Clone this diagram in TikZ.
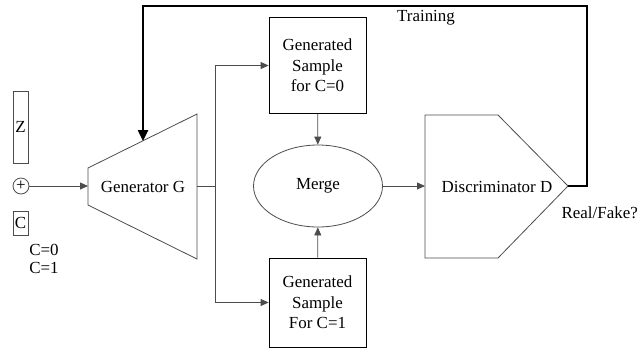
\documentclass[tikz,border=0pt]{standalone}
\usepackage{fontspec}
\setmainfont{Liberation Serif}
\usetikzlibrary{arrows.meta,shapes.geometric}

\begin{document}
\begin{tikzpicture}[x=1bp, y=-1bp, line join=miter, font=\fontsize{17}{20.5}\selectfont]
        \tikzstyle{every node}=[inner sep=0pt]
        \tikzstyle{thin line}=[draw=black!70, line width=0.8bp]
        \tikzstyle{arr}=[thin line, -{Triangle[length=8bp, width=7bp]}]
        \tikzstyle{sample}=[draw=black, line width=0.8bp, minimum width=97bp, minimum height=96bp, align=center]
        \tikzstyle{input}=[draw=black!70, line width=0.8bp, minimum width=15bp]

        \useasboundingbox (0,0) rectangle (639,358);

% inputs on the left
        \node[input, minimum height=72bp] (z) at (20.5,127) {Z};
        \node[thin line, circle, minimum size=16bp] (plus) at (21,186) {\raisebox{0.5bp}{+}};
        \node[input, minimum height=24bp] (c) at (20.5,223) {C};
        \node (c0) at (44,250) {C=0};
        \node (c1) at (44,268) {C=1};

% generator
        \coordinate (g1) at (88,168);
        \coordinate (g2) at (197,114);
        \coordinate (g3) at (197,259);
        \coordinate (g4) at (88,205);
        \draw[thin line] (g1) -- (g2) -- (g3) -- (g4) -- cycle;
        \node (gen) at (143,187) {Generator G};
        \coordinate (gin) at (88,186);
        \coordinate (gout) at (197,186);
        \coordinate (gtop) at (143,141);

% samples and merge
        \node[sample] (s0) at (317.5,65.5) {Generated\\Sample\\for C=0};
        \node[sample, minimum height=89bp] (s1) at (317.5,302.5) {Generated\\Sample\\For C=1};
        \node[thin line, ellipse, minimum width=129bp, minimum height=82bp] (merge) at (318,186) {Merge};
        \coordinate (split) at (215,186);

% discriminator
        \coordinate (d1) at (425,115);
        \coordinate (d2) at (498,115);
        \coordinate (dtip) at (568,186);
        \coordinate (d4) at (498,258);
        \coordinate (d5) at (425,258);
        \draw[thin line] (d1) -- (d2) -- (dtip) -- (d4) -- (d5) -- cycle;
        \node (disc) at (497,187) {Discriminator D};
        \coordinate (din) at (425,186);
        \node[anchor=east] (rf) at (638,213) {Real/Fake?};
        \node (train) at (426,18) {Training};

        \draw[arr] (plus) -- (gin);
        \draw[thin line] (gout) -- (split);
        \draw[arr] (split) |- (s0.west);
        \draw[arr] (split) |- (s1.west);
        \draw[arr] (s0) -- (merge);
        \draw[arr] (s1) -- (merge);
        \draw[arr] (merge) -- (din);
        \draw[line width=2.4bp, -{Triangle[length=11bp, width=10bp]}] (dtip) -- (587,186) -- (587,6) -- (143,6) -- (gtop);

    \end{tikzpicture}
\end{document}
